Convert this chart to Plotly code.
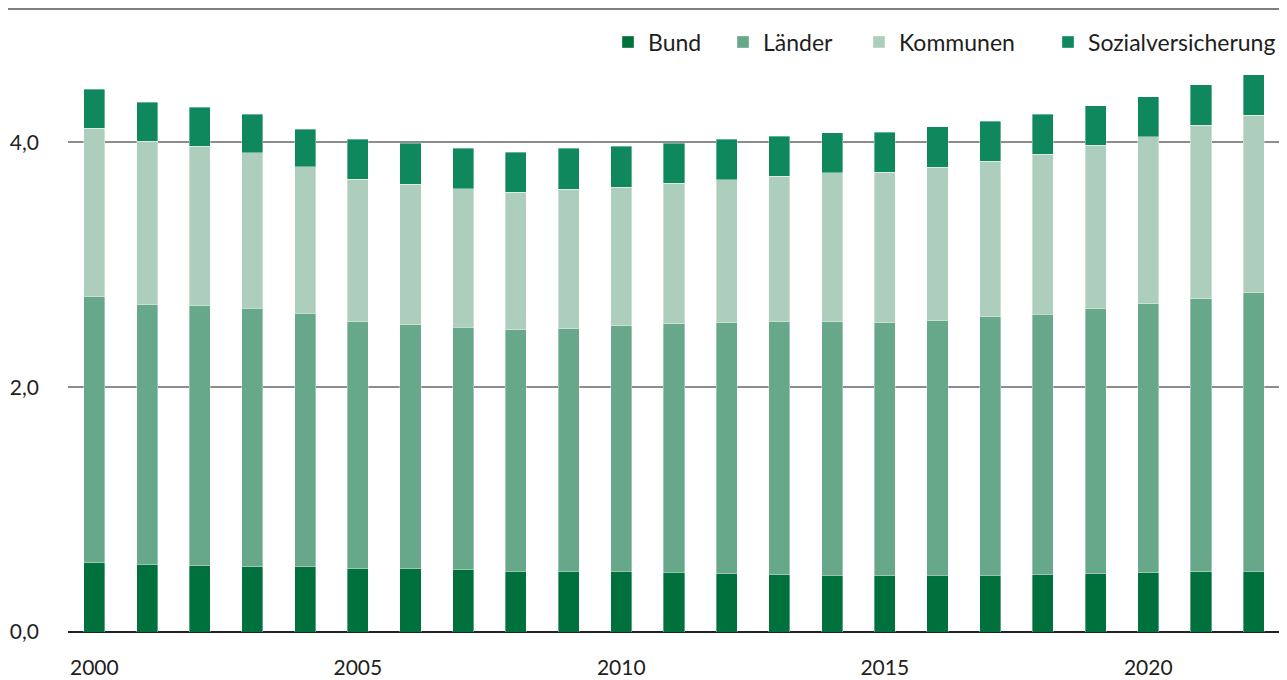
import plotly.graph_objects as go

years = list(range(2000, 2023))
bund = [0.566, 0.549, 0.541, 0.533, 0.533, 0.517, 0.517, 0.509, 0.496, 0.496, 0.496, 0.487,
        0.476, 0.468, 0.465, 0.460, 0.463, 0.463, 0.468, 0.476, 0.484, 0.492, 0.496]
laender = [2.174, 2.123, 2.123, 2.114, 2.071, 2.019, 1.992, 1.981, 1.972, 1.980, 2.007, 2.030,
           2.049, 2.065, 2.068, 2.065, 2.081, 2.111, 2.130, 2.163, 2.196, 2.232, 2.274]
kommunen = [1.374, 1.339, 1.306, 1.269, 1.198, 1.164, 1.151, 1.132, 1.124, 1.140, 1.132, 1.151,
            1.171, 1.192, 1.220, 1.230, 1.254, 1.271, 1.304, 1.337, 1.367, 1.417, 1.450]
sozial = [0.319, 0.316, 0.316, 0.315, 0.304, 0.324, 0.332, 0.329, 0.326, 0.335, 0.332, 0.326,
          0.328, 0.327, 0.326, 0.329, 0.330, 0.326, 0.327, 0.324, 0.326, 0.330, 0.333]

series_names = ["Bund", "Länder", "Kommunen", "Sozialversicherung"]
series_values = [bund, laender, kommunen, sozial]
series_colors = ["#00703c", "#67a88a", "#aecebd", "#10885e"]

x_ticks = [2000, 2005, 2010, 2015, 2020]
y_ticks = [0, 2, 4]

FONT = "Source Sans Pro, Lato, Noto Sans, sans-serif"
TXT = "#1e1e1e"

# page has an 8px body margin; figure is sized so the plot lands where the reference has it
W, H = 1279, 672
ML, MR, MT, MB = 60, 7, 12, 48
PW = W - ML - MR
# legend item left positions (figure px)
legend_left = [600, 715, 851, 1040]

fig = go.Figure()
for i, (name, vals, col) in enumerate(zip(series_names, series_values, series_colors)):
    lg = "legend" if i == 0 else f"legend{i+1}"
    fig.add_trace(go.Bar(
        x=years, y=vals, name=name, legend=lg,
        marker=dict(color=col, line=dict(color="rgba(255,255,255,0.45)", width=0.8)),
    ))

legend_common = dict(orientation="h", xanchor="left", y=0.964, yanchor="middle",
                     font=dict(size=23, color=TXT), itemclick=False,
                     bgcolor="rgba(0,0,0,0)", borderwidth=0)
layout_legends = {}
for i, lx in enumerate(legend_left):
    key = "legend" if i == 0 else f"legend{i+1}"
    layout_legends[key] = dict(legend_common, x=(lx - ML) / PW)

fig.update_layout(
    barmode="stack",
    bargap=0.6,
    width=W, height=H,
    margin=dict(l=ML, r=MR, t=MT, b=MB, autoexpand=False),
    plot_bgcolor="white", paper_bgcolor="white",
    separators=",.",
    font=dict(family=FONT, size=22, color=TXT),
    showlegend=True,
    **layout_legends,
)
fig.update_xaxes(
    range=[1999.5, 2022.5], tickvals=x_ticks, ticktext=[str(t) for t in x_ticks],
    showgrid=False, showline=False, zeroline=False, ticks="", automargin=False,
    ticklabelstandoff=21, tickfont=dict(size=21, color=TXT),
)
fig.update_yaxes(
    range=[0, 5.0], tickvals=y_ticks, tickformat=".1f", automargin=False,
    showgrid=True, gridcolor="#8c8c8c", gridwidth=1.5,
    zeroline=True, zerolinecolor="#222222", zerolinewidth=2,
    showline=False, ticks="", ticklabelstandoff=28,
    tickfont=dict(size=21, color=TXT),
)
fig.add_shape(type="line", xref="paper", yref="paper", x0=-0.06, x1=1.01,
              y0=1 + (MT - 1) / (H - MT - MB), y1=1 + (MT - 1) / (H - MT - MB),
              line=dict(color="#555555", width=1.5))

fig.write_html("out.html")
